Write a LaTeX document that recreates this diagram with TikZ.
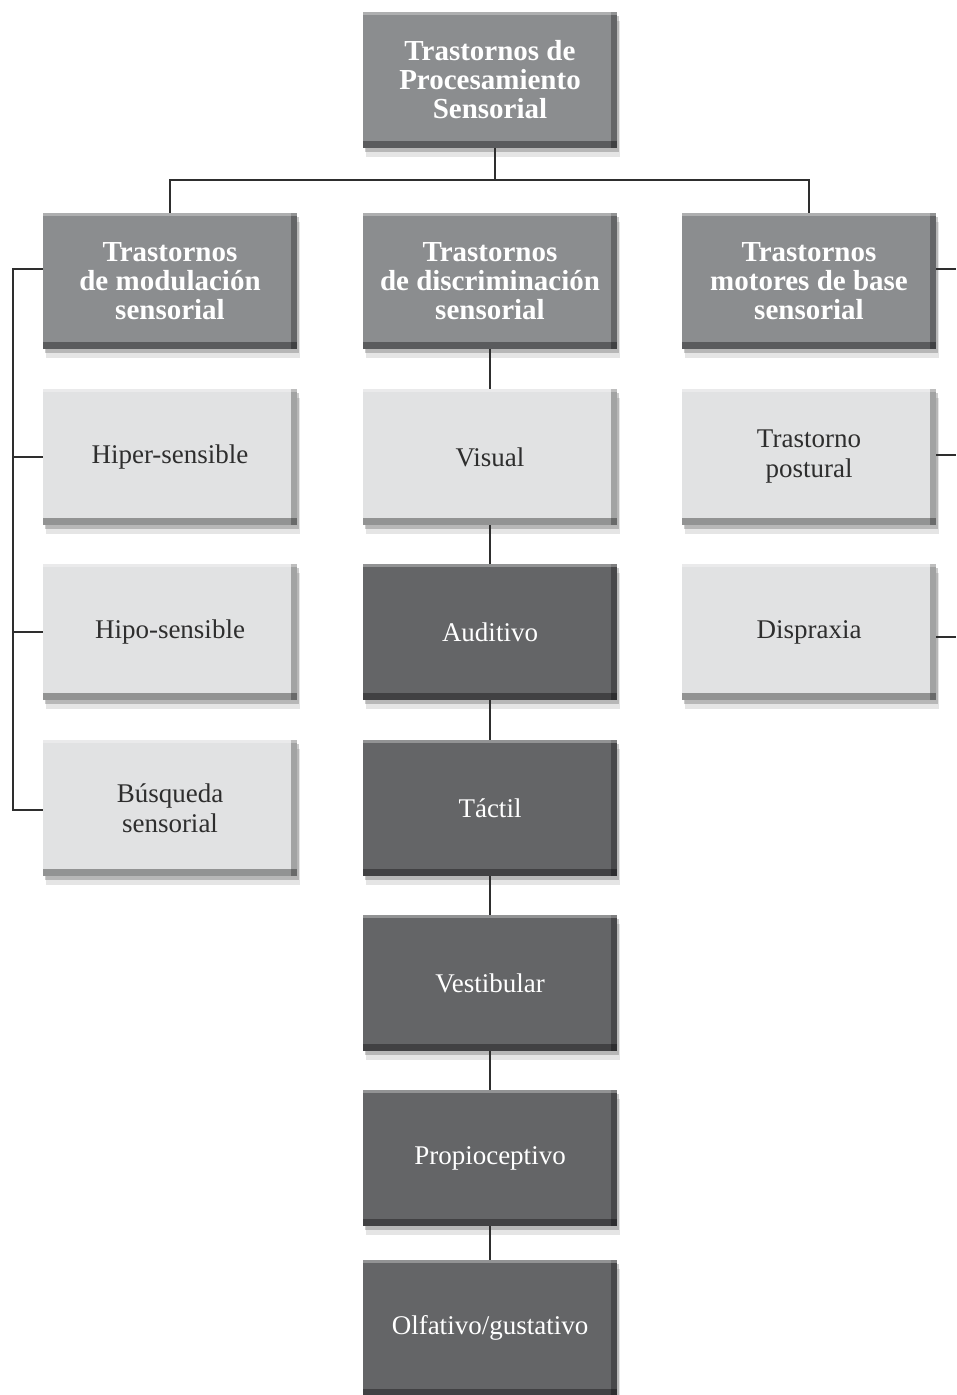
\documentclass[tikz,border=0pt]{standalone}
\usepackage{fontspec}
\setmainfont{Liberation Serif}
\usepackage{tikz}
\usetikzlibrary{shadows,calc}

\definecolor{hdrgray}{HTML}{8B8D8F}
\definecolor{litegray}{HTML}{E1E2E3}
\definecolor{darkgray}{HTML}{646567}
\definecolor{inkgray}{HTML}{2E2E2E}

\begin{document}
\begin{tikzpicture}[x=1pt,y=1pt,
    box/.style={rectangle,minimum width=254pt,minimum height=136pt,inner sep=0pt,align=center,
        drop shadow={shadow xshift=3pt,shadow yshift=-9pt,opacity=0.10,fill=black},
        drop shadow={shadow xshift=2pt,shadow yshift=-4pt,opacity=0.20,fill=black},
        path picture={
            \fill[black,opacity=0.35] (path picture bounding box.south west) rectangle ([yshift=7pt]path picture bounding box.south east);
            \fill[black,opacity=0.28] ([xshift=-6pt]path picture bounding box.north east) rectangle (path picture bounding box.south east);
            \fill[white,opacity=0.3] (path picture bounding box.north west) rectangle ([yshift=-3pt]path picture bounding box.north east);
        }},
    hdrbox/.style={box,fill=hdrgray,text=white,font=\fontsize{29}{29}\selectfont\bfseries},
    litebox/.style={box,fill=litegray,text=inkgray,font=\fontsize{27}{30}\selectfont},
    darkbox/.style={box,fill=darkgray,text=white,font=\fontsize{27}{30}\selectfont},
    link/.style={line width=2pt,inkgray}]

    \useasboundingbox[fill=white] (0,0) rectangle (956,-1395);

    % Top box
    \node[hdrbox] (tps) at (490,-80) {Trastornos de\\Procesamiento\\Sensorial};

    % Headers
    \node[hdrbox] (modul) at (170,-281) {Trastornos\\de modulación\\sensorial};
    \node[hdrbox] (discr) at (490,-281) {Trastornos\\de discriminación\\sensorial};
    \node[hdrbox] (motor) at (809,-281) {Trastornos\\motores de base\\sensorial};

    % Modulation column
    \node[litebox] (hiper) at (170,-457) {Hiper-sensible};
    \node[litebox] (hipo) at (170,-632) {Hipo-sensible};
    \node[litebox] (busq) at (170,-808) {Búsqueda\\sensorial};

    % Discrimination column
    \node[litebox] (visual) at (490,-457) {Visual};
    \node[darkbox] (audit) at (490,-632) {Auditivo};
    \node[darkbox] (tactil) at (490,-808) {Táctil};
    \node[darkbox] (vestib) at (490,-983) {Vestibular};
    \node[darkbox] (propio) at (490,-1158) {Propioceptivo};
    \node[darkbox] (olfat) at (490,-1328) {Olfativo/gustativo};

    % Motor column
    \node[litebox] (postur) at (809,-457) {Trastorno\\postural};
    \node[litebox] (dispr) at (809,-632) {Dispraxia};

    % Bus from top box
    \coordinate (bus) at (495,-180);
    \draw[link] ([xshift=5pt]tps.south) -- (bus);
    \draw[link] (modul.north) |- (bus) -| (motor.north);

    % Discrimination chain
    \draw[link] (discr) -- (visual);
    \draw[link] (visual) -- (audit);
    \draw[link] (audit) -- (tactil);
    \draw[link] (tactil) -- (vestib);
    \draw[link] (vestib) -- (propio);
    \draw[link] (propio) -- (olfat);

    % Left bracket
    \coordinate (lbtop) at (13,-269);
    \coordinate (lbbot) at (13,-810);
    \draw[link] ([yshift=12pt]modul.west) -- (lbtop) -- (lbbot) -- ([yshift=-2pt]busq.west);
    \draw[link] (hiper.west) -- (hiper.west -| lbtop);
    \draw[link] (hipo.west) -- (hipo.west -| lbtop);

    % Right ticks
    \coordinate (redge) at (956,0);
    \draw[link] ([yshift=12pt]motor.east) -- ([yshift=12pt]motor.east -| redge);
    \draw[link] ([yshift=2pt]postur.east) -- ([yshift=2pt]postur.east -| redge);
    \draw[link] ([yshift=-5pt]dispr.east) -- ([yshift=-5pt]dispr.east -| redge);

\end{tikzpicture}
\end{document}
